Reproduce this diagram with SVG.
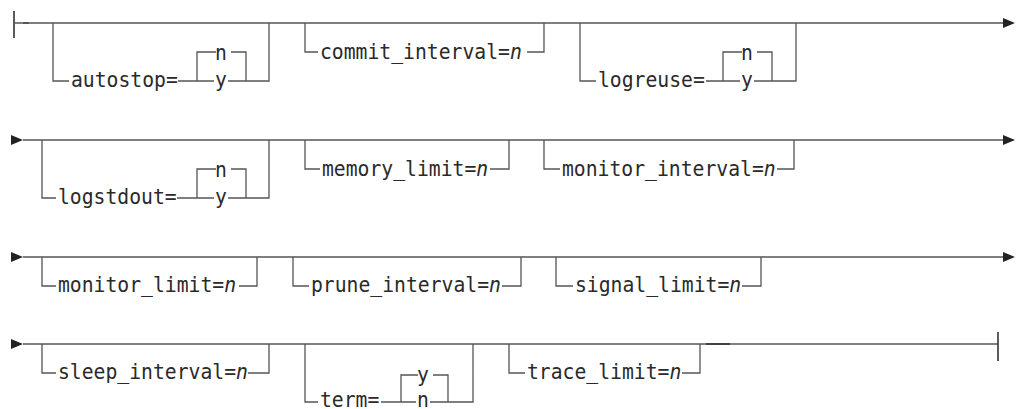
<svg xmlns="http://www.w3.org/2000/svg" width="1018" height="409" viewBox="0 0 1018 409">
  <style>
    .rail { fill: none; stroke: #555; stroke-width: 1.3; }
    .mark { fill: none; stroke: #333; stroke-width: 1.6; }
    .lbl { font-family: "DejaVu Sans Mono", "Liberation Mono", monospace; font-size: 21px; fill: #2a2a2a; }
    .var { font-style: italic; }
    .head { fill: #222; }
  </style>
  <defs>
    <polygon id="arrow" class="head" points="0,-5 12,0 0,5"/>
  </defs>

  <!-- main rails and terminators -->
  <g id="connectors">
    <!-- row 1 -->
    <line class="mark" x1="14" y1="11" x2="14" y2="38"/>
    <line class="mark" x1="23" y1="23" x2="29" y2="23"/>
    <line class="rail" x1="14" y1="23" x2="1004" y2="23"/>
    <use href="#arrow" x="1003" y="23"/>
    <!-- row 2 -->
    <use href="#arrow" x="11" y="140"/>
    <line class="rail" x1="23" y1="140" x2="1004" y2="140"/>
    <use href="#arrow" x="1003" y="140"/>
    <!-- row 3 -->
    <use href="#arrow" x="11" y="257"/>
    <line class="rail" x1="23" y1="257" x2="1004" y2="257"/>
    <use href="#arrow" x="1003" y="257"/>
    <!-- row 4 -->
    <use href="#arrow" x="11" y="344"/>
    <line class="rail" x1="23" y1="344" x2="998" y2="344"/>
    <line class="mark" x1="706" y1="344" x2="730" y2="344"/>
    <line class="mark" x1="998" y1="332" x2="998" y2="361"/>
  </g>

  <!-- autostop=n|y -->
  <g id="autostop">
    <path class="rail" d="M53,23 V81 H69"/>
    <text class="lbl" transform="translate(71,86.5) scale(0.94,1)">autostop=</text>
    <path class="rail" d="M178,81 H214 M228,81 H246 M269,23 V81 H246 V52 H231 M216,52 H197 V81"/>
    <text class="lbl" transform="translate(215,59.5) scale(0.94,1)">n</text>
    <text class="lbl" transform="translate(215,86.5) scale(0.94,1)">y</text>
  </g>

  <!-- commit_interval=n -->
  <g id="commit_interval">
    <path class="rail" d="M305,23 V52 H318 M527,52 H544 V23"/>
    <text class="lbl" transform="translate(320,58.5) scale(0.94,1)">commit_interval=<tspan class="var">n</tspan></text>
  </g>

  <!-- logreuse=n|y -->
  <g id="logreuse">
    <path class="rail" d="M580,23 V81 H596"/>
    <text class="lbl" transform="translate(598,86.5) scale(0.94,1)">logreuse=</text>
    <path class="rail" d="M706,81 H740 M754,81 H772 M796,23 V81 H772 V52 H757 M742,52 H723 V81"/>
    <text class="lbl" transform="translate(741,59.5) scale(0.94,1)">n</text>
    <text class="lbl" transform="translate(741,86.5) scale(0.94,1)">y</text>
  </g>

  <!-- logstdout=n|y -->
  <g id="logstdout">
    <path class="rail" d="M42,140 V198 H56"/>
    <text class="lbl" transform="translate(58,203.5) scale(0.94,1)">logstdout=</text>
    <path class="rail" d="M177,198 H214 M228,198 H246 M269,140 V198 H246 V169 H231 M216,169 H197 V198"/>
    <text class="lbl" transform="translate(215,176.5) scale(0.94,1)">n</text>
    <text class="lbl" transform="translate(215,203.5) scale(0.94,1)">y</text>
  </g>

  <!-- memory_limit=n -->
  <g id="memory_limit">
    <path class="rail" d="M305,140 V169 H320 M490,169 H509 V140"/>
    <text class="lbl" transform="translate(322,175.5) scale(0.94,1)">memory_limit=<tspan class="var">n</tspan></text>
  </g>

  <!-- monitor_interval=n -->
  <g id="monitor_interval">
    <path class="rail" d="M544,140 V169 H560 M777,169 H794 V140"/>
    <text class="lbl" transform="translate(562,175.5) scale(0.94,1)">monitor_interval=<tspan class="var">n</tspan></text>
  </g>

  <!-- monitor_limit=n -->
  <g id="monitor_limit">
    <path class="rail" d="M42,257 V286 H56 M239,286 H257 V257"/>
    <text class="lbl" transform="translate(58,292) scale(0.94,1)">monitor_limit=<tspan class="var">n</tspan></text>
  </g>

  <!-- prune_interval=n -->
  <g id="prune_interval">
    <path class="rail" d="M293,257 V286 H309 M502,286 H521 V257"/>
    <text class="lbl" transform="translate(311,292) scale(0.94,1)">prune_interval=<tspan class="var">n</tspan></text>
  </g>

  <!-- signal_limit=n -->
  <g id="signal_limit">
    <path class="rail" d="M556,257 V286 H573 M742,286 H761 V257"/>
    <text class="lbl" transform="translate(575,292) scale(0.94,1)">signal_limit=<tspan class="var">n</tspan></text>
  </g>

  <!-- sleep_interval=n -->
  <g id="sleep_interval">
    <path class="rail" d="M42,344 V373 H56 M248,373 H269 V344"/>
    <text class="lbl" transform="translate(58,379) scale(0.94,1)">sleep_interval=<tspan class="var">n</tspan></text>
  </g>

  <!-- term=y|n -->
  <g id="term">
    <path class="rail" d="M305,344 V402 H318"/>
    <text class="lbl" transform="translate(320,406.5) scale(0.94,1)">term=</text>
    <path class="rail" d="M381,402 H416 M430,402 H448 M473,344 V402 H448 V375 H433 M418,375 H401 V402"/>
    <text class="lbl" transform="translate(417,382) scale(0.94,1)">y</text>
    <text class="lbl" transform="translate(417,406.5) scale(0.94,1)">n</text>
  </g>

  <!-- trace_limit=n -->
  <g id="trace_limit">
    <path class="rail" d="M509,344 V373 H525 M682,373 H700 V344"/>
    <text class="lbl" transform="translate(527,379) scale(0.94,1)">trace_limit=<tspan class="var">n</tspan></text>
  </g>
</svg>
